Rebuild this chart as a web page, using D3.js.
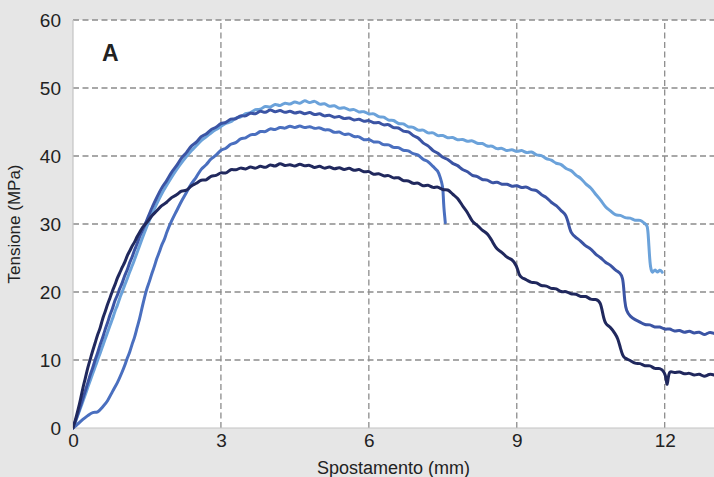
<!DOCTYPE html>
<html><head><meta charset="utf-8">
<script src="https://cdn.jsdelivr.net/npm/d3@7"></script>
<style>
html,body{margin:0;padding:0;background:#e6e6e6;}
svg{display:block;}
text{font-family:"Liberation Sans",Arial,sans-serif;fill:#222;}
</style></head>
<body>
<script>
const xTicks = [0,3,6,9,12];
const yTicks = [0,10,20,30,40,50,60];
const xTitle = "Spostamento (mm)";
const yTitle = "Tensione (MPa)";
const panelLabel = "A";

const seriesNames = ["light","mid1","mid2","dark"];
const seriesColors = ["#6ba2da","#3b54a4","#4a6fbf","#20285d"];

const light = [[0,0],[0.05,0.9],[0.1,1.9],[0.15,2.9],[0.2,3.9],[0.25,4.9],[0.3,6.0],[0.35,7.0],[0.4,8.0],[0.45,9.0],[0.5,10.0],[0.55,11.0],[0.6,12.0],[0.65,13.1],[0.7,14.0],[0.75,15.1],[0.8,16.0],[0.85,17.2],[0.9,18.0],[0.95,19.2],[1.0,20.0],[1.05,21.1],[1.1,21.9],[1.15,23.0],[1.2,23.8],[1.3,25.8],[1.4,27.8],[1.5,29.7],[1.6,31.4],[1.7,33.0],[1.8,34.5],[1.9,35.7],[2.0,36.9],[2.1,38.0],[2.2,39.0],[2.3,39.9],[2.4,40.8],[2.5,41.5],[2.6,42.3],[2.7,42.8],[2.8,43.4],[2.9,43.9],[3.0,44.3],[3.1,44.9],[3.2,44.9],[3.3,45.7],[3.4,45.6],[3.5,46.4],[3.6,46.2],[3.7,47.0],[3.8,46.7],[3.9,47.5],[4.0,47.0],[4.1,47.8],[4.2,47.2],[4.3,48.0],[4.4,47.4],[4.5,48.2],[4.6,47.5],[4.7,48.4],[4.8,47.6],[4.9,48.3],[5.0,47.4],[5.1,47.9],[5.2,47.1],[5.3,47.6],[5.4,46.8],[5.5,47.3],[5.6,46.6],[5.7,47.0],[5.8,46.3],[5.9,46.7],[6.0,46.0],[6.1,46.4],[6.2,45.6],[6.3,45.9],[6.4,45.1],[6.5,45.4],[6.6,44.6],[6.7,44.9],[6.8,44.1],[6.9,44.4],[7.0,43.6],[7.1,44.0],[7.2,43.2],[7.3,43.6],[7.4,42.8],[7.5,43.2],[7.6,42.5],[7.7,42.9],[7.8,42.2],[7.9,42.6],[8.0,42.0],[8.1,42.4],[8.2,41.7],[8.3,42.0],[8.4,41.3],[8.5,41.6],[8.6,40.9],[8.7,41.3],[8.8,40.6],[8.9,41.1],[9.0,40.5],[9.1,41.0],[9.2,40.3],[9.3,40.8],[9.4,40.0],[9.5,40.2],[9.6,39.5],[9.7,39.5],[9.8,38.8],[9.9,38.9],[10.0,38.0],[10.1,38.0],[10.2,37.1],[10.3,36.8],[10.4,35.8],[10.5,35.4],[10.6,34.3],[10.7,33.6],[10.8,32.4],[10.9,32.0],[11.0,31.2],[11.1,31.4],[11.2,30.8],[11.3,31.0],[11.4,30.4],[11.5,30.7],[11.6,30.0],[11.65,29.9],[11.67,28.0],[11.69,25.5],[11.71,23.6],[11.75,22.6],[11.8,23.5],[11.85,22.7],[11.9,23.4],[11.95,22.9]];

const mid1 = [[0,0],[0.05,1.0],[0.1,2.1],[0.15,3.2],[0.2,4.3],[0.25,5.5],[0.3,6.6],[0.35,7.9],[0.4,8.8],[0.45,10.1],[0.5,11.0],[0.55,12.3],[0.6,13.2],[0.65,14.5],[0.7,15.4],[0.75,16.7],[0.8,17.5],[0.85,18.8],[0.9,19.5],[0.95,20.6],[1.0,21.3],[1.05,22.5],[1.1,23.2],[1.15,24.4],[1.2,25.1],[1.25,26.3],[1.3,27.0],[1.35,28.2],[1.4,28.9],[1.5,30.6],[1.6,32.4],[1.7,33.9],[1.8,35.4],[1.9,36.3],[2.0,37.7],[2.1,38.5],[2.2,39.8],[2.3,40.4],[2.4,41.6],[2.5,41.9],[2.6,43.0],[2.7,43.1],[2.8,44.0],[2.9,44.1],[3.0,44.9],[3.1,44.8],[3.2,45.6],[3.3,45.3],[3.4,46.1],[3.5,45.7],[3.6,46.5],[3.7,46.0],[3.8,46.8],[3.9,46.2],[4.0,47.0],[4.1,46.3],[4.2,46.9],[4.3,46.2],[4.4,46.8],[4.5,46.1],[4.6,46.7],[4.7,46.0],[4.8,46.6],[4.9,45.9],[5.0,46.4],[5.1,45.7],[5.2,46.2],[5.3,45.5],[5.4,46.0],[5.5,45.3],[5.6,45.8],[5.7,45.1],[5.8,45.6],[5.9,44.9],[6.0,45.4],[6.1,44.7],[6.2,45.1],[6.3,44.4],[6.4,44.8],[6.5,44.0],[6.6,44.3],[6.7,43.5],[6.8,43.7],[6.9,42.9],[7.0,42.8],[7.1,41.8],[7.2,41.6],[7.3,40.7],[7.4,40.5],[7.5,39.7],[7.6,39.6],[7.7,38.8],[7.8,38.7],[7.9,37.9],[8.0,37.8],[8.1,37.0],[8.2,37.1],[8.3,36.4],[8.4,36.6],[8.5,35.9],[8.6,36.3],[8.7,35.7],[8.8,36.0],[8.9,35.4],[9.0,35.8],[9.1,35.2],[9.2,35.6],[9.3,34.9],[9.4,35.1],[9.5,34.2],[9.6,34.0],[9.7,33.1],[9.8,32.8],[9.9,31.9],[10.0,31.4],[10.05,30.0],[10.1,28.6],[10.2,28.0],[10.3,27.5],[10.4,26.7],[10.5,26.4],[10.6,25.5],[10.7,25.1],[10.8,24.3],[10.9,24.0],[11.0,23.2],[11.1,22.8],[11.15,22.1],[11.17,20.5],[11.19,18.6],[11.22,17.2],[11.3,16.4],[11.4,15.9],[11.5,15.6],[11.6,15.1],[11.7,15.3],[11.8,14.7],[11.9,15.0],[12.0,14.4],[12.1,14.7],[12.2,14.1],[12.3,14.5],[12.4,13.9],[12.5,14.4],[12.6,13.8],[12.7,14.3],[12.8,13.5],[12.9,14.2],[13.0,13.9]];

const mid2 = [[0,0],[0.1,0.6],[0.2,1.3],[0.3,1.8],[0.4,2.4],[0.5,2.2],[0.6,3.1],[0.7,3.9],[0.8,5.4],[0.9,6.6],[1.0,8.3],[1.05,9.2],[1.1,10.3],[1.15,11.1],[1.2,12.4],[1.25,13.3],[1.3,14.8],[1.35,16.0],[1.4,17.7],[1.45,19.2],[1.5,20.6],[1.55,21.5],[1.6,22.8],[1.65,23.7],[1.7,25.0],[1.75,25.8],[1.8,27.0],[1.85,27.6],[1.9,28.8],[2.0,30.5],[2.1,31.9],[2.2,33.4],[2.3,34.6],[2.4,36.0],[2.5,36.8],[2.6,38.2],[2.7,38.6],[2.8,39.7],[2.9,40.0],[3.0,41.0],[3.1,41.0],[3.2,41.9],[3.3,41.8],[3.4,42.7],[3.5,42.5],[3.6,43.3],[3.7,43.0],[3.8,43.8],[3.9,43.4],[4.0,44.2],[4.1,43.7],[4.2,44.4],[4.3,43.9],[4.4,44.6],[4.5,44.0],[4.6,44.6],[4.7,44.0],[4.8,44.5],[4.9,43.9],[5.0,44.3],[5.1,43.7],[5.2,44.0],[5.3,43.3],[5.4,43.7],[5.5,43.0],[5.6,43.4],[5.7,42.7],[5.8,43.0],[5.9,42.2],[6.0,42.6],[6.1,41.9],[6.2,42.2],[6.3,41.5],[6.4,41.8],[6.5,41.1],[6.6,41.4],[6.7,40.7],[6.8,40.9],[6.9,40.2],[7.0,40.3],[7.1,39.4],[7.2,39.3],[7.3,38.4],[7.4,37.9],[7.45,36.8],[7.5,35.6],[7.51,34.0],[7.52,32.5],[7.54,31.0],[7.55,30.2]];

const dark = [[0,0],[0.05,1.2],[0.1,2.6],[0.15,4.1],[0.2,5.9],[0.25,7.3],[0.3,8.9],[0.35,10.1],[0.4,11.4],[0.45,12.5],[0.5,13.8],[0.55,14.6],[0.6,16.1],[0.65,17.0],[0.7,18.2],[0.75,19.1],[0.8,20.2],[0.85,21.0],[0.9,22.1],[0.95,22.8],[1.0,23.7],[1.05,24.3],[1.1,25.4],[1.15,26.0],[1.2,26.8],[1.25,27.3],[1.3,28.2],[1.35,28.7],[1.4,29.5],[1.5,30.2],[1.6,31.3],[1.7,31.9],[1.8,32.8],[1.9,33.1],[2.0,34.0],[2.1,34.2],[2.2,35.0],[2.3,34.8],[2.4,35.7],[2.5,35.9],[2.6,36.6],[2.7,36.3],[2.8,37.2],[2.9,37.0],[3.0,37.7],[3.1,37.3],[3.2,38.2],[3.3,37.8],[3.4,38.4],[3.5,37.9],[3.6,38.6],[3.7,38.0],[3.8,38.7],[3.9,38.1],[4.0,38.9],[4.1,38.3],[4.2,39.1],[4.3,38.4],[4.4,38.9],[4.5,38.3],[4.6,39.0],[4.7,38.4],[4.8,38.8],[4.9,38.1],[5.0,38.7],[5.1,38.0],[5.2,38.6],[5.3,37.9],[5.4,38.5],[5.5,37.8],[5.6,38.4],[5.7,37.7],[5.8,38.2],[5.9,37.5],[6.0,37.9],[6.1,37.1],[6.2,37.6],[6.3,36.9],[6.4,37.3],[6.5,36.6],[6.6,37.0],[6.7,36.2],[6.8,36.5],[6.9,35.8],[7.0,36.2],[7.1,35.4],[7.2,35.9],[7.3,35.2],[7.4,35.6],[7.5,34.9],[7.6,35.2],[7.7,34.3],[7.8,33.9],[7.9,32.6],[8.0,31.8],[8.1,30.2],[8.2,29.9],[8.3,29.0],[8.4,28.7],[8.5,27.5],[8.6,26.2],[8.7,25.9],[8.8,25.0],[8.9,24.9],[9.0,23.9],[9.05,22.4],[9.1,22.1],[9.2,21.8],[9.3,21.3],[9.4,21.5],[9.5,20.8],[9.6,21.0],[9.7,20.4],[9.8,20.6],[9.9,19.9],[10.0,20.2],[10.1,19.6],[10.2,19.8],[10.3,19.2],[10.4,19.5],[10.5,18.8],[10.6,19.0],[10.7,18.6],[10.75,16.5],[10.8,15.2],[10.9,14.9],[11.0,13.8],[11.05,13.2],[11.1,11.8],[11.15,10.6],[11.2,10.2],[11.3,10.0],[11.4,9.4],[11.5,9.6],[11.6,9.0],[11.7,9.3],[11.8,8.6],[11.9,8.9],[12.0,8.2],[12.03,7.2],[12.05,6.0],[12.07,7.4],[12.1,8.5],[12.2,8.0],[12.3,8.4],[12.4,7.8],[12.5,8.2],[12.6,7.6],[12.7,8.1],[12.8,7.4],[12.9,8.0],[13.0,7.8]];

const seriesData = [light, mid1, mid2, dark];

const W = 714, H = 477;
const margin = {left:73, right:0, top:20, bottom:49};
const svg = d3.select("body").append("svg").attr("width",W).attr("height",H);
svg.append("rect").attr("width",W).attr("height",H).attr("fill","#e6e6e6");

const x = d3.scaleLinear().domain([0,13]).range([margin.left, W-margin.right]);
const y = d3.scaleLinear().domain([0,60]).range([H-margin.bottom, margin.top]);

svg.append("rect").attr("x",x(0)).attr("y",y(60)).attr("width",x(13)-x(0)).attr("height",y(0)-y(60)).attr("fill","#ffffff");

const grid = svg.append("g");
grid.selectAll("line.h").data(yTicks.filter(d=>d>0)).enter().append("line")
  .attr("x1",x(0)).attr("x2",x(13)).attr("y1",d=>y(d)).attr("y2",d=>y(d))
  .attr("stroke","#8c8c8c").attr("stroke-width",1.3).attr("stroke-dasharray","6,3.5");
grid.selectAll("line.v").data(xTicks.filter(d=>d>0)).enter().append("line")
  .attr("x1",d=>x(d)).attr("x2",d=>x(d)).attr("y1",y(0)).attr("y2",y(60))
  .attr("stroke","#8c8c8c").attr("stroke-width",1.3).attr("stroke-dasharray","6,3.5");

svg.append("line").attr("x1",x(0)).attr("x2",x(0)).attr("y1",y(0)).attr("y2",y(60)).attr("stroke","#c4c4c4").attr("stroke-width",1.2);
svg.append("line").attr("x1",x(0)).attr("x2",x(13)).attr("y1",y(0)).attr("y2",y(0)).attr("stroke","#c4c4c4").attr("stroke-width",1.2);

svg.append("clipPath").attr("id","clip").append("rect")
  .attr("x",x(0)).attr("y",y(60)).attr("width",x(13)-x(0)).attr("height",y(0)-y(60)+2);

const line = d3.line().x(d=>x(d[0])).y(d=>y(d[1])).curve(d3.curveBasis);
const curves = svg.append("g").attr("clip-path","url(#clip)");
curves.selectAll("path").data(seriesData).enter().append("path")
  .attr("d",line).attr("fill","none")
  .attr("stroke",(d,i)=>seriesColors[i]).attr("stroke-width",3)
  .attr("stroke-linejoin","round").attr("stroke-linecap","round");

const xAxis = d3.axisBottom(x).tickValues(xTicks).tickSize(0).tickPadding(6);
const gx = svg.append("g").attr("transform",`translate(0,${y(0)})`).call(xAxis);
gx.select(".domain").remove();
gx.selectAll("text").attr("font-size",19).attr("fill","#222").attr("font-family","Liberation Sans, Arial, sans-serif");

const yAxis = d3.axisLeft(y).tickValues(yTicks).tickSize(0).tickPadding(12);
const gy = svg.append("g").attr("transform",`translate(${x(0)},0)`).call(yAxis);
gy.select(".domain").remove();
gy.selectAll("text").attr("font-size",19).attr("fill","#222").attr("font-family","Liberation Sans, Arial, sans-serif");

svg.append("text").attr("x",(x(0)+x(13))/2).attr("y",474).attr("text-anchor","middle")
  .attr("font-size",18).text(xTitle);
svg.append("text").attr("transform",`translate(20,${(y(0)+y(60))/2}) rotate(-90)`)
  .attr("text-anchor","middle").attr("font-size",17).text(yTitle);
svg.append("text").attr("x",102).attr("y",61).attr("font-size",23).attr("font-weight","bold").text(panelLabel);
</script>
</body></html>
